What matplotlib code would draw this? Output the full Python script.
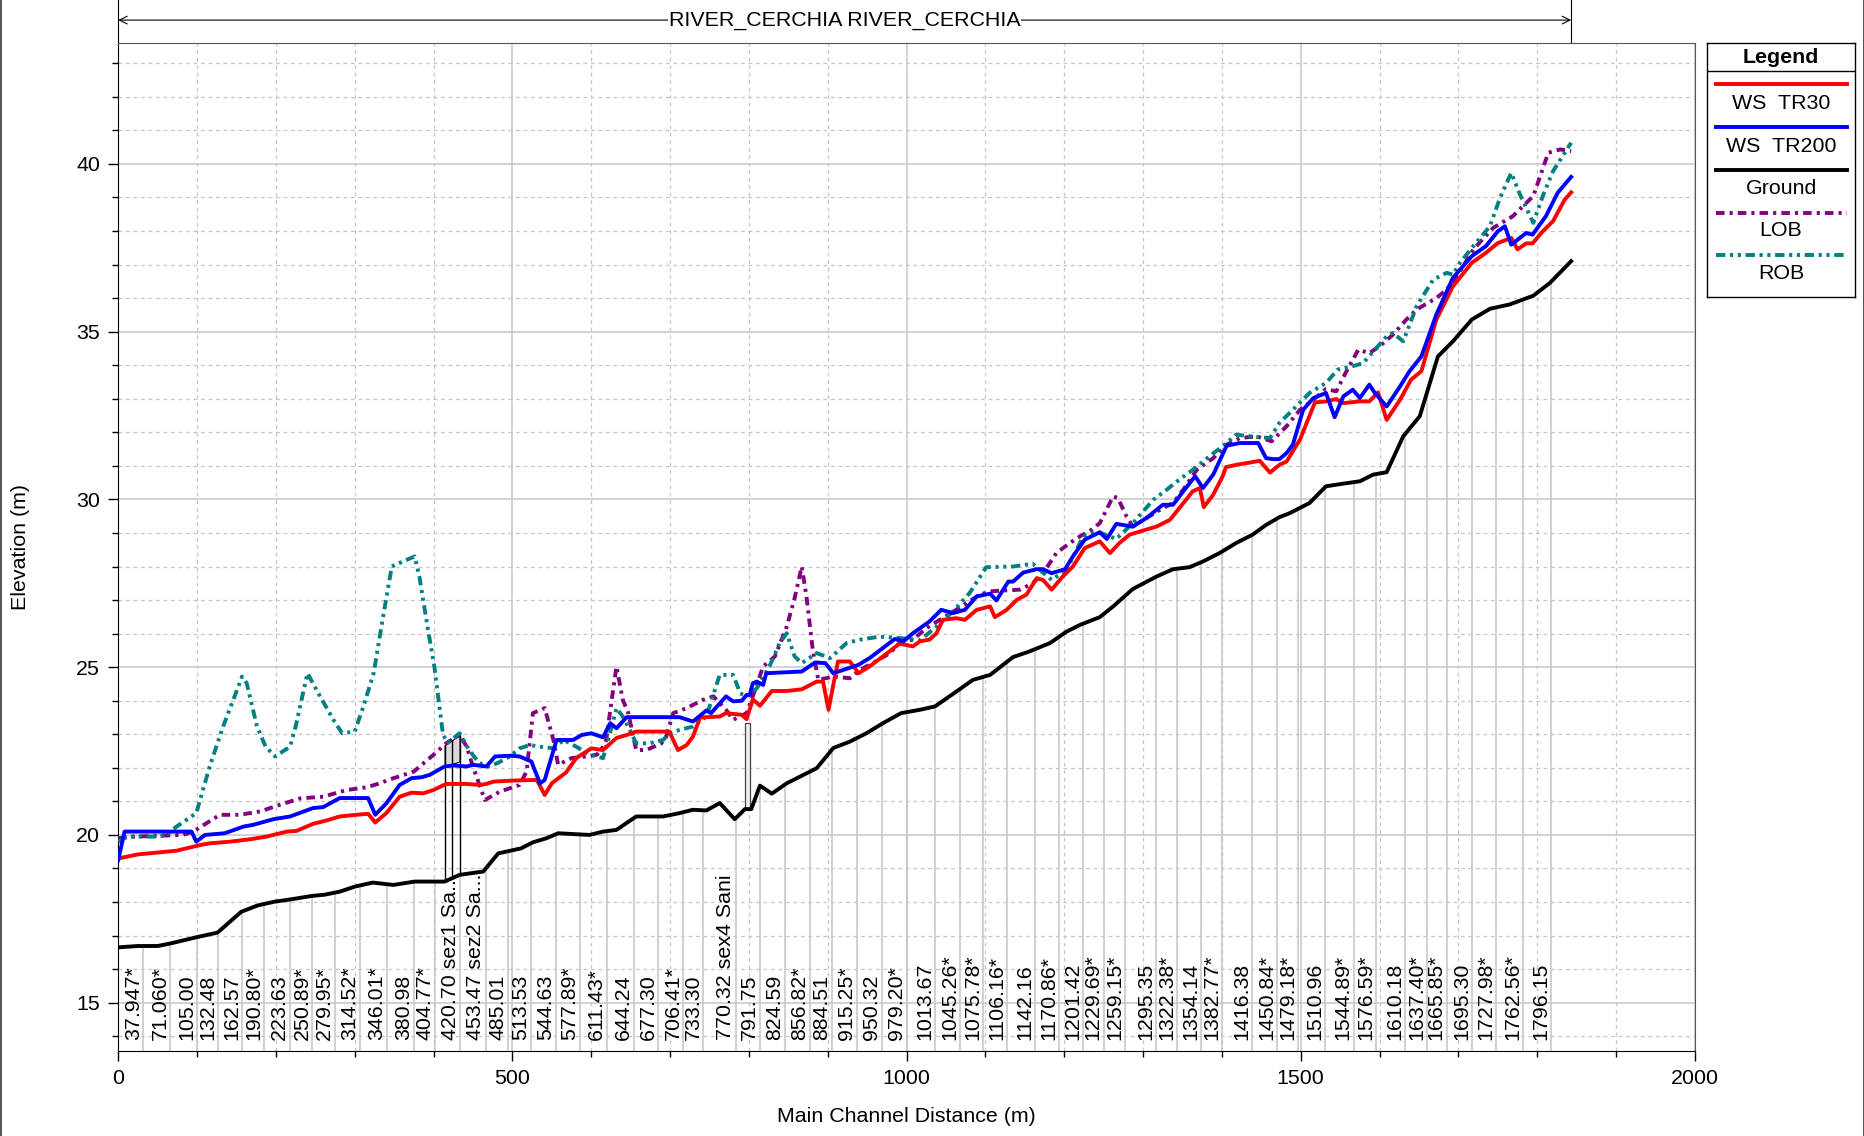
import matplotlib
matplotlib.use("Agg")
import matplotlib.pyplot as plt
import matplotlib.transforms as mtransforms
from matplotlib.patches import Polygon
from matplotlib.lines import Line2D
from matplotlib.ticker import MultipleLocator

plt.rcParams['font.family'] = ['Liberation Sans', 'DejaVu Sans']

# ---- data (main channel distance m, elevation m) ----
ws30_dist = [0, 25, 74, 104, 116, 142, 167, 188, 214, 226, 247, 264, 281, 302, 317, 326, 340,
             357, 372, 387, 400, 416, 442, 459, 467, 476, 501, 531, 541, 550, 568, 581, 600,
             615, 632, 645, 657, 691, 699, 710, 721, 729, 738, 763, 771, 791, 797, 805, 814,
             829, 848, 867, 886, 894, 901, 907, 913, 928, 939, 953, 970, 991, 1008, 1017, 1029,
             1038, 1046, 1063, 1074, 1089, 1106, 1112, 1127, 1140, 1152, 1165, 1173, 1184, 1198,
             1211, 1226, 1245, 1258, 1270, 1283, 1304, 1317, 1334, 1346, 1363, 1372, 1377, 1389,
             1401, 1405, 1418, 1431, 1448, 1461, 1473, 1482, 1499, 1518, 1532, 1545, 1554, 1575,
             1587, 1598, 1609, 1626, 1640, 1653, 1672, 1693, 1717, 1735, 1750, 1767, 1775, 1786,
             1794, 1807, 1820, 1835, 1843]
ws30_elev = [19.30, 19.42, 19.53, 19.70, 19.75, 19.80, 19.87, 19.95, 20.10, 20.12, 20.33, 20.43,
             20.55, 20.60, 20.63, 20.37, 20.65, 21.14, 21.26, 21.24, 21.34, 21.52, 21.52, 21.49,
             21.52, 21.59, 21.62, 21.64, 21.19, 21.54, 21.86, 22.29, 22.58, 22.53, 22.89, 22.98,
             23.08, 23.08, 23.08, 22.53, 22.68, 22.93, 23.50, 23.53, 23.63, 23.58, 23.45, 24.04,
             23.85, 24.29, 24.29, 24.34, 24.57, 24.57, 23.73, 24.47, 25.17, 25.17, 24.82, 25.02,
             25.32, 25.70, 25.62, 25.77, 25.82, 26.01, 26.41, 26.46, 26.41, 26.71, 26.81, 26.49,
             26.71, 27.01, 27.16, 27.65, 27.60, 27.31, 27.70, 28.00, 28.55, 28.75, 28.40, 28.70,
             28.95, 29.10, 29.19, 29.39, 29.74, 30.24, 30.34, 29.77, 30.14, 30.69, 30.96, 31.03,
             31.08, 31.15, 30.80, 31.03, 31.13, 31.78, 32.89, 32.92, 32.99, 32.87, 32.92, 32.92,
             33.19, 32.37, 32.97, 33.57, 33.82, 35.36, 36.35, 37.05, 37.35, 37.64, 37.79, 37.45,
             37.63, 37.63, 37.99, 38.29, 38.94, 39.15]

ws200_dist = [0, 8, 93, 99, 110, 135, 159, 171, 197, 218, 247, 260, 281, 317, 326, 340, 357, 372,
              385, 395, 414, 425, 442, 450, 467, 478, 497, 509, 524, 535, 541, 556, 577, 588, 600,
              615, 624, 632, 645, 712, 729, 746, 752, 771, 780, 791, 797, 801, 805, 810, 818, 822,
              867, 884, 897, 907, 920, 939, 953, 970, 985, 996, 1008, 1029, 1044, 1059, 1074,
              1089, 1106, 1114, 1129, 1135, 1148, 1165, 1173, 1184, 1201, 1211, 1226, 1245, 1254,
              1266, 1287, 1304, 1325, 1338, 1351, 1366, 1376, 1389, 1406, 1423, 1446, 1456, 1465,
              1473, 1482, 1490, 1503, 1516, 1532, 1543, 1554, 1566, 1575, 1587, 1594, 1609, 1626,
              1638, 1653, 1672, 1693, 1717, 1735, 1750, 1759, 1767, 1786, 1794, 1811, 1826, 1843]
ws200_elev = [19.25, 20.10, 20.10, 19.80, 20.00, 20.05, 20.25, 20.30, 20.47, 20.55, 20.80, 20.83,
              21.10, 21.10, 20.60, 20.94, 21.49, 21.69, 21.72, 21.79, 22.04, 22.07, 22.04, 22.09,
              22.04, 22.34, 22.36, 22.34, 22.19, 21.54, 21.64, 22.83, 22.83, 22.98, 23.03, 22.91,
              23.33, 23.18, 23.51, 23.51, 23.38, 23.71, 23.63, 24.13, 23.98, 24.00, 24.17, 24.17,
              24.52, 24.57, 24.47, 24.82, 24.87, 25.14, 25.12, 24.82, 24.92, 25.07, 25.27, 25.57,
              25.84, 25.77, 26.01, 26.36, 26.71, 26.61, 26.71, 27.11, 27.19, 26.99, 27.55, 27.55,
              27.82, 27.92, 27.92, 27.80, 27.92, 28.30, 28.80, 29.02, 28.82, 29.27, 29.19, 29.44,
              29.84, 29.84, 30.24, 30.69, 30.34, 30.74, 31.60, 31.68, 31.68, 31.23, 31.20, 31.20,
              31.38, 31.63, 32.67, 33.02, 33.17, 32.45, 33.07, 33.27, 33.02, 33.42, 33.17, 32.77,
              33.37, 33.82, 34.26, 35.51, 36.60, 37.25, 37.55, 37.99, 38.14, 37.59, 37.94, 37.89,
              38.44, 39.14, 39.61]

ground_dist = [0, 25, 50, 67, 99, 126, 156, 177, 198, 219, 245, 262, 281, 300, 323, 349, 376, 414,
               433, 463, 482, 511, 526, 543, 558, 598, 615, 632, 657, 691, 712, 729, 746, 763, 782,
               795, 803, 814, 829, 848, 865, 886, 907, 928, 949, 970, 993, 1017, 1036, 1063, 1084,
               1106, 1135, 1156, 1182, 1203, 1220, 1245, 1262, 1287, 1317, 1338, 1359, 1376, 1397,
               1418, 1439, 1456, 1473, 1486, 1511, 1532, 1554, 1575, 1592, 1609, 1630, 1651, 1674,
               1693, 1717, 1740, 1765, 1795, 1816, 1843]
ground_elev = [16.65, 16.69, 16.69, 16.77, 16.95, 17.09, 17.71, 17.90, 18.01, 18.08, 18.18, 18.22,
               18.31, 18.46, 18.58, 18.51, 18.61, 18.61, 18.81, 18.91, 19.45, 19.60, 19.78, 19.90,
               20.05, 20.00, 20.10, 20.15, 20.55, 20.55, 20.65, 20.75, 20.73, 20.95, 20.47, 20.77,
               20.77, 21.47, 21.23, 21.54, 21.74, 21.99, 22.59, 22.78, 23.03, 23.33, 23.63, 23.73,
               23.83, 24.27, 24.62, 24.77, 25.30, 25.47, 25.72, 26.06, 26.26, 26.49, 26.81, 27.33,
               27.70, 27.92, 27.98, 28.15, 28.40, 28.70, 28.95, 29.24, 29.47, 29.59, 29.89, 30.39,
               30.47, 30.54, 30.74, 30.81, 31.88, 32.48, 34.26, 34.71, 35.36, 35.68, 35.81, 36.07,
               36.45, 37.10]

lob_dist = [0, 19, 82, 95, 129, 154, 180, 205, 231, 260, 290, 315, 332, 345, 375, 400, 416, 433,
            442, 450, 465, 484, 509, 518, 526, 541, 552, 558, 575, 594, 607, 615, 619, 626, 632,
            640, 647, 657, 670, 689, 695, 704, 721, 742, 755, 763, 771, 780, 797, 805, 818, 833,
            848, 858, 867, 873, 881, 888, 907, 928, 941, 957, 979, 991, 1008, 1025, 1042, 1063,
            1076, 1093, 1106, 1127, 1144, 1160, 1173, 1190, 1207, 1220, 1232, 1245, 1262, 1268,
            1279, 1287, 1304, 1325, 1338, 1351, 1368, 1389, 1406, 1423, 1444, 1463, 1482, 1499,
            1516, 1532, 1545, 1558, 1573, 1587, 1600, 1617, 1634, 1647, 1672, 1685, 1702, 1719,
            1744, 1769, 1795, 1814, 1829, 1843]
lob_elev = [19.90, 19.95, 20.00, 20.10, 20.60, 20.60, 20.70, 20.90, 21.09, 21.14, 21.34, 21.42,
            21.54, 21.66, 21.89, 22.39, 22.73, 22.98, 22.63, 22.04, 21.04, 21.29, 21.49, 21.89,
            23.63, 23.78, 22.83, 22.09, 22.29, 22.34, 22.39, 22.63, 22.83, 24.03, 25.02, 24.03,
            23.63, 22.53, 22.53, 22.73, 22.93, 23.63, 23.78, 24.03, 24.13, 23.93, 23.73, 23.43,
            23.63, 24.13, 25.02, 25.32, 26.21, 27.06, 28.00, 27.11, 25.52, 24.62, 24.72, 24.67,
            24.92, 25.12, 25.42, 25.72, 25.82, 26.16, 26.41, 26.71, 26.91, 27.16, 27.26, 27.29,
            27.31, 27.50, 27.80, 28.40, 28.70, 28.90, 29.05, 29.29, 30.09, 30.04, 29.49, 29.19,
            29.44, 29.74, 29.89, 30.29, 30.88, 31.23, 31.63, 31.83, 31.88, 31.73, 32.18, 32.67,
            32.97, 33.29, 33.22, 33.82, 34.46, 34.36, 34.56, 34.91, 35.36, 35.66, 36.00, 36.25,
            36.80, 37.45, 38.09, 38.44, 39.04, 40.33, 40.43, 40.38]

rob_dist = [0, 11, 51, 61, 74, 99, 116, 133, 146, 157, 163, 176, 187, 199, 218, 225, 240, 256, 273,
            284, 300, 311, 324, 336, 347, 361, 376, 382, 393, 401, 412, 418, 433, 445, 458, 469,
            481, 497, 509, 522, 535, 552, 565, 581, 598, 615, 626, 632, 640, 651, 657, 674, 691,
            700, 712, 729, 746, 763, 780, 789, 797, 810, 826, 839, 848, 858, 867, 886, 903, 924,
            941, 966, 991, 1017, 1038, 1059, 1080, 1101, 1135, 1160, 1184, 1203, 1224, 1241, 1266,
            1287, 1313, 1330, 1346, 1363, 1384, 1406, 1418, 1444, 1461, 1473, 1490, 1511, 1532,
            1547, 1566, 1579, 1594, 1609, 1617, 1630, 1647, 1668, 1685, 1693, 1702, 1719, 1740,
            1752, 1767, 1778, 1795, 1807, 1820, 1843]
rob_elev = [19.80, 19.95, 19.95, 20.00, 20.25, 20.65, 22.04, 23.23, 24.03, 24.72, 24.52, 23.23,
            22.63, 22.34, 22.63, 23.23, 24.82, 24.13, 23.43, 23.03, 23.08, 23.83, 24.82, 26.51,
            28.00, 28.15, 28.30, 27.70, 26.11, 25.02, 22.98, 22.75, 23.03, 22.53, 22.14, 22.04,
            22.14, 22.34, 22.58, 22.68, 22.63, 22.58, 22.83, 22.63, 22.39, 22.29, 23.23, 23.78,
            23.53, 23.03, 22.73, 22.73, 22.83, 23.03, 23.13, 23.23, 23.53, 24.77, 24.77, 24.22,
            24.13, 24.37, 25.02, 25.72, 26.01, 25.32, 25.12, 25.42, 25.27, 25.72, 25.82, 25.91,
            25.87, 25.80, 26.21, 26.66, 27.21, 27.98, 28.00, 28.08, 27.60, 27.90, 28.90, 29.05,
            28.82, 29.29, 29.99, 30.29, 30.59, 30.88, 31.28, 31.68, 31.93, 31.86, 31.83, 32.28,
            32.67, 33.17, 33.47, 33.87, 33.97, 34.06, 34.46, 34.86, 34.96, 34.71, 35.76, 36.55,
            36.75, 36.70, 37.05, 37.55, 38.14, 38.94, 39.73, 39.09, 38.24, 39.04, 39.78, 40.63]

# river stations (labels) and their positions along the main channel
station_labels = ["37.947*", "71.060*", "105.00", "132.48", "162.57", "190.80*", "223.63",
                  "250.89*", "279.95*", "314.52*", "346.01*", "380.98", "404.77*",
                  "420.70 sez1 Sa...", "453.47 sez2 Sa...", "485.01", "513.53", "544.63",
                  "577.89*", "611.43*", "644.24", "677.30", "706.41*", "733.30",
                  "770.32 sex4 Sani", "791.75", "824.59", "856.82*", "884.51", "915.25*",
                  "950.32", "979.20*", "1013.67", "1045.26*", "1075.78*", "1106.16*", "1142.16",
                  "1170.86*", "1201.42", "1229.69*", "1259.15*", "1295.35", "1322.38*",
                  "1354.14", "1382.77*", "1416.38", "1450.84*", "1479.18*", "1510.96",
                  "1544.89*", "1576.59*", "1610.18", "1637.40*", "1665.85*", "1695.30",
                  "1727.98*", "1762.56*", "1796.15"]
station_pos = [32, 66, 100, 127, 157, 185, 218, 246, 275, 307, 341, 375, 402, 434, 466, 495, 523,
               555, 586, 620, 654, 685, 717, 742, 783, 814, 846, 878, 905, 937, 969, 1000, 1036,
               1068, 1097, 1127, 1163, 1193, 1224, 1250, 1277, 1317, 1343, 1374, 1400, 1438, 1470,
               1497, 1531, 1567, 1596, 1632, 1660, 1685, 1717, 1748, 1782, 1818]

# bridge at sez1 (deck) and structure near sex4
bridge1_dist = [414, 424, 433]
bridge1_top = [22.68, 22.83, 22.98]
bridge1_low = [22.04, 22.12, 22.19]
bridge1_ground = [18.61, 18.70, 18.81]
bridge2_dist = [795, 802]
bridge2_top = [23.35, 23.35]
bridge2_low = [20.77, 20.77]

reach_name = "RIVER_CERCHIA RIVER_CERCHIA"

FS = 15.4
LW = 2.8
LOB_LS = (0, (2.2, 1.3, 0.8, 1.3))
ROB_LS = (0, (2.4, 1.2, 0.8, 1.2, 0.8, 1.2))

# ---- figure ----
fig = plt.figure(figsize=(18.65, 11.36), dpi=100)
ax = fig.add_axes([0.0634, 0.0748, 0.8454, 0.8873])
ax.set_xlim(0, 2000)
ax.set_ylim(13.56, 43.6)

ax.xaxis.set_major_locator(MultipleLocator(500))
ax.xaxis.set_minor_locator(MultipleLocator(100))
ax.yaxis.set_major_locator(MultipleLocator(5))
ax.yaxis.set_minor_locator(MultipleLocator(1))
ax.grid(which='major', color='#c6c6c6', lw=1.1, ls='-')
ax.grid(which='minor', color='#c6c6c6', lw=0.9, ls=(0, (3, 3)))
ax.set_axisbelow(True)
ax.tick_params(which='major', direction='out', length=7, width=1, labelsize=FS, pad=6)
ax.tick_params(which='minor', direction='out', length=4, width=1)
for s in ['left', 'bottom']:
    ax.spines[s].set_color('black')
for s in ['top', 'right']:
    ax.spines[s].set_color('#555555')

# cross-section lines under the ground line
ymin = ax.get_ylim()[0]
ground_poly = Polygon([(ground_dist[0], ymin)] + list(zip(ground_dist, ground_elev)) +
                      [(ground_dist[-1], ymin)], closed=True, facecolor='none',
                      edgecolor='none', transform=ax.transData)
ax.add_patch(ground_poly)
sec = ax.vlines(station_pos, ymin, 45, colors='#c8c8c8', lw=1.2, zorder=1.5)
sec.set_clip_path(ground_poly)

# structures
ax.fill_between(bridge1_dist, bridge1_low, bridge1_top, facecolor='#d9d9d9',
                edgecolor='black', lw=0.8, zorder=2)
ax.vlines(bridge1_dist, bridge1_ground, bridge1_top, colors='black', lw=1.0, zorder=2)
ax.fill_between(bridge2_dist, bridge2_low, bridge2_top, facecolor='#efefef',
                edgecolor='#444444', lw=0.9, zorder=2)

ax.plot(ground_dist, ground_elev, color='black', lw=LW, zorder=3)
ax.plot(lob_dist, lob_elev, color='#800080', lw=LW, ls=LOB_LS, zorder=3)
ax.plot(rob_dist, rob_elev, color='#008080', lw=LW, ls=ROB_LS, zorder=3)
ax.plot(ws30_dist, ws30_elev, color='#ff0000', lw=LW, zorder=4)
ax.plot(ws200_dist, ws200_elev, color='#0000ff', lw=LW, zorder=4)

# river station labels
trans = mtransforms.blended_transform_factory(ax.transData, ax.transAxes)
for pos, lab in zip(station_pos, station_labels):
    ax.text(pos - 1, 0.011, lab, transform=trans, rotation=90, ha='right', va='bottom',
            fontsize=FS, zorder=5)

# reach annotation on top
ytop = 1.0228
ax.annotate('', xy=(ground_dist[0], ytop), xytext=(ground_dist[-1], ytop), xycoords=trans,
            textcoords=trans, annotation_clip=False,
            arrowprops=dict(arrowstyle='<->', color='black', lw=0.8, shrinkA=0, shrinkB=0,
                            mutation_scale=14))
for xx in (ground_dist[0], ground_dist[-1]):
    ax.plot([xx, xx], [1.0, 1.05], transform=trans, color='black', lw=0.8, clip_on=False)
ax.text((ground_dist[0] + ground_dist[-1]) / 2, ytop, reach_name, transform=trans,
        ha='center', va='center', fontsize=FS,
        bbox=dict(facecolor='white', edgecolor='none', pad=0.5))

fig.text(906 / 1865, 1 - 1116 / 1136, 'Main Channel Distance (m)', ha='center', va='center',
         fontsize=FS)
fig.text(21 / 1865, 1 - 547 / 1136, 'Elevation (m)', ha='center', va='center',
         rotation=90, fontsize=FS)

# legend box
lax = fig.add_axes([0.9153, 0.7386, 0.0794, 0.2235])
lax.set_xlim(0, 1)
lax.set_ylim(0, 1)
lax.set_xticks([])
lax.set_yticks([])
for s in lax.spines.values():
    s.set_color('black')
    s.set_linewidth(1)
lax.text(0.5, 0.945, 'Legend', ha='center', va='center', fontsize=FS, fontweight='bold')
lax.plot([0, 1], [0.89, 0.89], color='black', lw=1)
entries = [('WS  TR30', '#ff0000', '-'), ('WS  TR200', '#0000ff', '-'),
           ('Ground', 'black', '-'), ('LOB', '#800080', LOB_LS), ('ROB', '#008080', ROB_LS)]
line_y = [0.837, 0.669, 0.5, 0.331, 0.167]
text_y = [0.762, 0.594, 0.429, 0.260, 0.093]
for (name, col, ls), ly, ty in zip(entries, line_y, text_y):
    lax.add_line(Line2D([0.06, 0.946], [ly, ly], color=col, lw=LW, ls=ls))
    lax.text(0.5, ty, name, ha='center', va='center', fontsize=FS)

# thin window border at the left and right edges
fig.add_artist(Line2D([0.0005, 0.0005], [0, 1], color='#333333', lw=1.2))
fig.add_artist(Line2D([0.9995, 0.9995], [0, 1], color='#333333', lw=1.2))

fig.savefig('out.png', dpi=100)
